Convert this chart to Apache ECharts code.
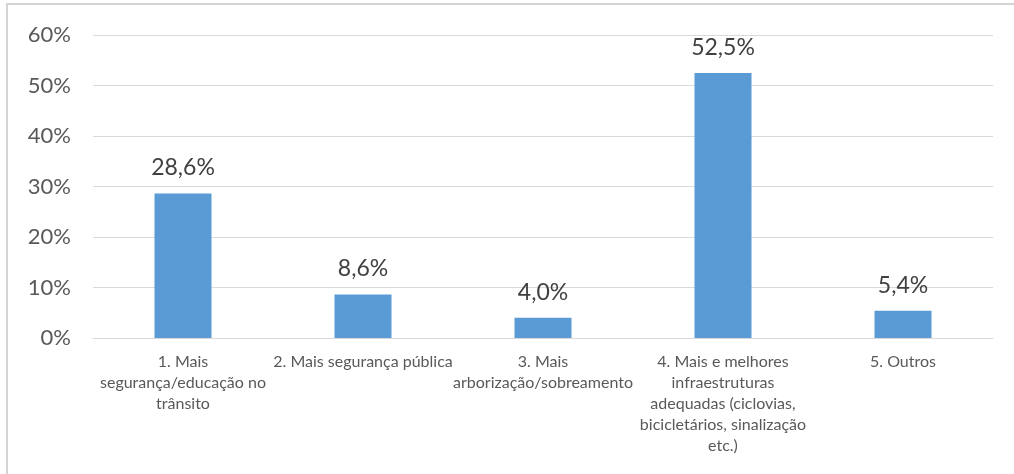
<!DOCTYPE html>
<html>
<head>
<meta charset="utf-8">
<script src="https://cdn.jsdelivr.net/npm/echarts@6/dist/echarts.min.js"></script>
<style>
html,body{margin:0;padding:0;background:#fff;}
#chart{width:1014px;height:474px;}
</style>
</head>
<body>
<div id="chart"></div>
<script>
const categories = [
  "1. Mais\nsegurança/educação no\ntrânsito",
  "2. Mais segurança pública",
  "3. Mais\narborização/sobreamento",
  "4. Mais e melhores\ninfraestruturas\nadequadas (ciclovias,\nbicicletários, sinalização\netc.)",
  "5. Outros"
];
const values = [28.6, 8.6, 4.0, 52.5, 5.4];
const yTicks = [0, 10, 20, 30, 40, 50, 60];

const chart = echarts.init(document.getElementById('chart'), null, {renderer: 'canvas'});
const FONT = 'Lato, "Open Sans", sans-serif';
chart.setOption({
  animation: false,
  backgroundColor: '#ffffff',
  graphic: [{
    type: 'polyline',
    shape: {points: [[7, 700], [7, 4], [1100, 4]]},
    style: {fill: 'none', stroke: '#d4d4d4', lineWidth: 2},
    silent: true
  }],
  grid: {left: 93, right: 21, top: 35, bottom: 136, containLabel: false},
  xAxis: {
    type: 'category',
    data: categories,
    axisLine: {lineStyle: {color: '#d9d9d9', width: 1}},
    axisTick: {show: false},
    axisLabel: {
      color: '#595959',
      fontFamily: FONT,
      fontSize: 16,
      lineHeight: 21,
      margin: 13,
      interval: 0
    }
  },
  yAxis: {
    type: 'value',
    min: yTicks[0],
    max: yTicks[yTicks.length - 1],
    interval: 10,
    axisLine: {show: false},
    axisTick: {show: false},
    splitLine: {lineStyle: {color: '#d9d9d9', width: 1}},
    axisLabel: {
      color: '#595959',
      fontFamily: FONT,
      fontSize: 22,
      margin: 22,
      formatter: v => v + '%'
    }
  },
  series: [{
    type: 'bar',
    data: values,
    barWidth: 57,
    itemStyle: {color: '#5B9BD5'},
    label: {
      show: true,
      position: 'top',
      distance: 14,
      color: '#404040',
      fontFamily: FONT,
      fontSize: 23,
      formatter: p => p.value.toFixed(1).replace('.', ',') + '%'
    }
  }]
});
</script>
</body>
</html>
